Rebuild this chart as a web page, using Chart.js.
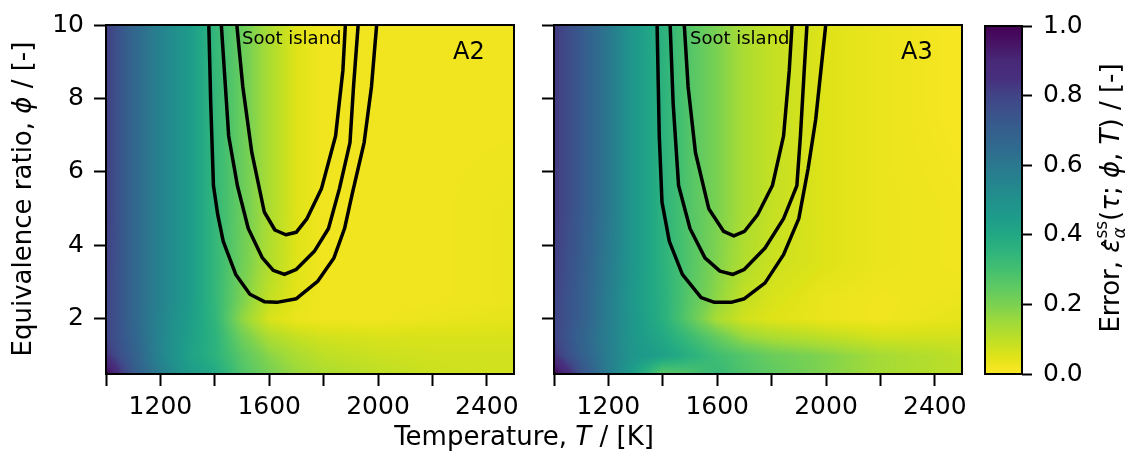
<!DOCTYPE html>
<html lang="en">
<head>
<meta charset="UTF-8">
<title>Soot island error maps</title>
<script src="https://cdn.jsdelivr.net/npm/chart.js"></script>
<style>
  body { margin: 0; background: #fff; }
  #wrap { position: relative; width: 1128px; height: 453px; }
  #wrap canvas { position: absolute; left: 0; top: 0; }
</style>
</head>
<body>
<div id="wrap">
  <canvas id="panelA2" width="1128" height="453"></canvas>
  <canvas id="panelA3" width="1128" height="453"></canvas>
  <canvas id="cbar" width="1128" height="453"></canvas>
</div>
<script>
// grid of the error maps: columns = temperature [K], rows = equivalence ratio [-]
const temperatureK = [1000, 1050, 1100, 1200, 1300, 1400, 1500, 1600, 1700, 1800, 2000, 2200, 2500];
const equivRatio = [0.5, 1.0, 1.5, 2.0, 2.5, 3.5, 5.0, 7.5, 10.0];

// A2 error, one row per equivalence ratio
const errorA2 = [
  [1.00, 0.85, 0.72, 0.58, 0.46, 0.40, 0.28, 0.21, 0.16, 0.13, 0.10, 0.08, 0.07],
  [0.85, 0.76, 0.70, 0.55, 0.43, 0.36, 0.26, 0.18, 0.13, 0.10, 0.08, 0.07, 0.07],
  [0.80, 0.74, 0.68, 0.55, 0.44, 0.36, 0.22, 0.13, 0.09, 0.07, 0.06, 0.06, 0.06],
  [0.80, 0.74, 0.67, 0.55, 0.45, 0.35, 0.17, 0.06, 0.03, 0.02, 0.02, 0.03, 0.04],
  [0.80, 0.74, 0.67, 0.56, 0.46, 0.34, 0.20, 0.09, 0.04, 0.02, 0.02, 0.02, 0.03],
  [0.81, 0.74, 0.67, 0.56, 0.46, 0.34, 0.22, 0.12, 0.05, 0.02, 0.02, 0.02, 0.03],
  [0.82, 0.74, 0.67, 0.56, 0.46, 0.34, 0.23, 0.13, 0.05, 0.02, 0.02, 0.02, 0.03],
  [0.82, 0.74, 0.67, 0.56, 0.46, 0.34, 0.23, 0.13, 0.05, 0.02, 0.02, 0.02, 0.02],
  [0.82, 0.74, 0.67, 0.56, 0.46, 0.34, 0.23, 0.13, 0.05, 0.02, 0.02, 0.02, 0.02]
];

// A3 error
const errorA3 = [
  [1.00, 0.88, 0.75, 0.58, 0.42, 0.25, 0.28, 0.33, 0.28, 0.25, 0.19, 0.14, 0.10],
  [0.85, 0.76, 0.70, 0.58, 0.47, 0.43, 0.37, 0.31, 0.27, 0.23, 0.19, 0.14, 0.10],
  [0.80, 0.74, 0.68, 0.57, 0.46, 0.40, 0.32, 0.24, 0.16, 0.13, 0.10, 0.07, 0.07],
  [0.80, 0.75, 0.70, 0.58, 0.46, 0.37, 0.25, 0.13, 0.07, 0.05, 0.03, 0.02, 0.04],
  [0.80, 0.75, 0.70, 0.58, 0.45, 0.37, 0.26, 0.17, 0.09, 0.06, 0.03, 0.02, 0.03],
  [0.82, 0.76, 0.71, 0.59, 0.46, 0.36, 0.27, 0.19, 0.12, 0.08, 0.05, 0.03, 0.02],
  [0.83, 0.77, 0.72, 0.60, 0.46, 0.36, 0.27, 0.20, 0.13, 0.09, 0.05, 0.03, 0.02],
  [0.83, 0.77, 0.72, 0.60, 0.46, 0.36, 0.27, 0.20, 0.13, 0.09, 0.05, 0.03, 0.01],
  [0.83, 0.77, 0.72, 0.60, 0.46, 0.36, 0.27, 0.20, 0.13, 0.09, 0.05, 0.03, 0.01]
];

// soot island contours (T, phi)
const a2OuterT = [1378, 1385, 1395, 1411, 1431, 1477, 1529, 1582, 1628, 1700, 1779, 1838, 1877, 1904, 1949, 1976, 1995];
const a2OuterPhi = [10, 7.87, 5.63, 4.83, 4.11, 3.21, 2.67, 2.47, 2.45, 2.55, 3.03, 3.66, 4.46, 5.36, 6.8, 8.32, 10];
const a2MidT = [1424, 1451, 1483, 1523, 1575, 1615, 1656, 1700, 1766, 1818, 1858, 1897, 1910, 1927];
const a2MidPhi = [10, 6.98, 5.63, 4.46, 3.66, 3.32, 3.21, 3.35, 3.84, 4.46, 5.54, 6.8, 8.32, 10];
const a2InnerT = [1481, 1503, 1536, 1582, 1621, 1661, 1700, 1739, 1792, 1844, 1871, 1880];
const a2InnerPhi = [10, 8.32, 6.53, 4.91, 4.42, 4.29, 4.36, 4.73, 5.54, 6.98, 8.77, 10];

const a3OuterT = [1379, 1387, 1397, 1424, 1472, 1541, 1590, 1651, 1700, 1776, 1844, 1900, 1934, 1962, 1999];
const a3OuterPhi = [10, 6.98, 5.18, 4.11, 3.21, 2.58, 2.45, 2.45, 2.55, 2.98, 3.75, 4.73, 6.08, 7.42, 10];
const a3MidT = [1427, 1438, 1458, 1500, 1555, 1610, 1658, 1700, 1776, 1844, 1893, 1906, 1920, 1930];
const a3MidPhi = [10, 7.87, 5.63, 4.46, 3.66, 3.30, 3.21, 3.35, 3.93, 4.73, 5.63, 6.98, 8.77, 10];
const a3InnerT = [1479, 1493, 1520, 1569, 1624, 1661, 1700, 1748, 1803, 1844, 1865, 1875];
const a3InnerPhi = [10, 8.32, 6.53, 5.0, 4.38, 4.26, 4.38, 4.83, 5.63, 6.98, 8.77, 10];

// viridis colormap stops (0 -> 1)
const viridis = ['#440154', '#471365', '#482878', '#472f7d', '#414487', '#3b528b', '#355f8d', '#306a8e',
  '#2a788e', '#25848e', '#21918c', '#1e9b8a', '#22a884', '#2fb47c', '#44bf70', '#5ec962',
  '#7ad151', '#9fda3a', '#bddf26', '#dfe318', '#fde725'];

Chart.defaults.font.family = 'DejaVu Sans';
Chart.defaults.color = '#000';

const viridisRgb = viridis.map(h => [1, 3, 5].map(i => parseInt(h.substr(i, 2), 16)));

// error 0 -> yellow, error 1 -> purple (reversed viridis)
function errColor(e) {
  const t = 1 - Math.min(1, Math.max(0, e));
  const f = t * (viridisRgb.length - 1);
  const i = Math.min(viridisRgb.length - 2, Math.floor(f));
  const w = f - i;
  const a = viridisRgb[i], b = viridisRgb[i + 1];
  return [0, 1, 2].map(k => Math.round(a[k] + (b[k] - a[k]) * w));
}

function findCell(arr, v) {
  if (v <= arr[0]) return [0, 0];
  if (v >= arr[arr.length - 1]) return [arr.length - 2, 1];
  let i = 0;
  while (arr[i + 1] < v) i++;
  return [i, (v - arr[i]) / (arr[i + 1] - arr[i])];
}

function sampleGrid(grid, T, phi) {
  const [i, fx] = findCell(temperatureK, T);
  const [j, fy] = findCell(equivRatio, phi);
  const lo = grid[j][i] * (1 - fx) + grid[j][i + 1] * fx;
  const hi = grid[j + 1][i] * (1 - fx) + grid[j + 1][i + 1] * fx;
  return lo * (1 - fy) + hi * fy;
}

function toPoints(ts, phis) {
  return ts.map((t, k) => ({ x: t, y: phis[k] }));
}

// heat map painted pixel by pixel through the chart scales
function heatmap(grid) {
  return {
    id: 'heatmap',
    beforeDatasetsDraw(chart) {
      const { ctx, chartArea: a, scales: { x, y } } = chart;
      const left = Math.round(a.left), top = Math.round(a.top);
      const w = Math.round(a.right) - left, h = Math.round(a.bottom) - top;
      const img = ctx.createImageData(w, h);
      for (let j = 0; j < h; j++) {
        const phi = y.getValueForPixel(top + j + 0.5);
        for (let i = 0; i < w; i++) {
          const T = x.getValueForPixel(left + i + 0.5);
          const c = errColor(sampleGrid(grid, T, phi));
          const k = (j * w + i) * 4;
          img.data[k] = c[0]; img.data[k + 1] = c[1]; img.data[k + 2] = c[2]; img.data[k + 3] = 255;
        }
      }
      ctx.putImageData(img, left, top);
    }
  };
}

function panelDecor(tag) {
  return {
    id: 'decor',
    afterDatasetsDraw(chart) {
      const { ctx, chartArea: a, scales: { x, y } } = chart;
      ctx.save();
      ctx.fillStyle = '#000';
      ctx.textBaseline = 'alphabetic';
      ctx.textAlign = 'left';
      ctx.font = '18px "DejaVu Sans"';
      ctx.fillText('Soot island', x.getPixelForValue(1500), y.getPixelForValue(9.49));
      ctx.font = '24px "DejaVu Sans"';
      ctx.fillText(tag, x.getPixelForValue(2276), y.getPixelForValue(9.08));
      ctx.lineWidth = 2;
      ctx.strokeStyle = '#000';
      ctx.strokeRect(a.left, a.top, a.right - a.left, a.bottom - a.top);
      ctx.restore();
    }
  };
}

function makePanel(id, grid, lines, tag, yLabels, area) {
  return new Chart(document.getElementById(id), {
    type: 'scatter',
    data: {
      datasets: lines.map(l => ({
        data: l, showLine: true, borderColor: '#000', borderWidth: 3.5,
        pointRadius: 0, borderJoinStyle: 'round', tension: 0
      }))
    },
    options: {
      responsive: false,
      animation: false,
      events: [],
      layout: { padding: { left: area.left - area.yw, top: 21, right: 1128 - area.right, bottom: 0 } },
      plugins: { legend: { display: false }, tooltip: { enabled: false } },
      scales: {
        x: {
          type: 'linear', min: 1000, max: 2500,
          ticks: {
            stepSize: 200, includeBounds: false, autoSkip: false, maxRotation: 0,
            padding: 6, font: { size: 25 },
            callback: v => (v % 400 === 0 ? String(v) : '')
          },
          grid: { display: true, drawOnChartArea: false, tickLength: 12, tickWidth: 2, color: '#000' },
          border: { display: false },
          afterFit: s => { s.height = 79; }
        },
        y: {
          type: 'linear', min: 0.5, max: 10,
          ticks: {
            stepSize: 2, includeBounds: false, autoSkip: false, padding: 10, font: { size: 25 },
            callback: v => (yLabels ? String(v) : '')
          },
          grid: { display: true, drawOnChartArea: false, tickLength: 12, tickWidth: 2, color: '#000' },
          border: { display: false },
          afterFit: s => { s.width = area.yw; }
        }
      }
    },
    plugins: [heatmap(grid), panelDecor(tag)]
  });
}

makePanel('panelA2', errorA2, [
  toPoints(a2OuterT, a2OuterPhi), toPoints(a2MidT, a2MidPhi), toPoints(a2InnerT, a2InnerPhi)
], 'A2', true, { left: 106, right: 514, yw: 106 });

makePanel('panelA3', errorA3, [
  toPoints(a3OuterT, a3OuterPhi), toPoints(a3MidT, a3MidPhi), toPoints(a3InnerT, a3InnerPhi)
], 'A3', false, { left: 554, right: 962, yw: 30 });

// draw a line of mixed text (normal / italic / sub / sup), centred on the origin, rotated
function drawRich(ctx, parts, cx, cy, angle) {
  ctx.save();
  ctx.translate(cx, cy);
  ctx.rotate(angle);
  ctx.textBaseline = 'alphabetic';
  ctx.textAlign = 'left';
  ctx.fillStyle = '#000';
  let total = 0, stackW = 0;
  parts.forEach(p => {
    ctx.font = p.font;
    p.w = ctx.measureText(p.text).width;
    if (p.stack) { stackW = p.w; p.adv = 0; }
    else if (p.over) { p.adv = 0; }
    else { p.adv = Math.max(p.w, stackW); stackW = 0; }
    total += p.adv;
  });
  let x = -total / 2, prevX = x, prevW = 0;
  parts.forEach(p => {
    ctx.font = p.font;
    if (p.over) {
      ctx.fillText(p.text, prevX + prevW / 2 - p.w / 2 + (p.dx || 0), p.dy || 0);
      return;
    }
    ctx.fillText(p.text, x, p.dy || 0);
    prevX = x; prevW = p.w;
    x += p.adv;
  });
  ctx.restore();
}

const figureLabels = {
  id: 'figureLabels',
  afterDraw(chart) {
    const ctx = chart.ctx;
    const rm = '26px "DejaVu Sans"', it = 'italic 26px "DejaVu Sans"';
    const smRm = '17px "DejaVu Sans"', smIt = 'italic 17px "DejaVu Sans"';
    drawRich(ctx, [
      { text: 'Temperature, ', font: rm }, { text: 'T', font: it }, { text: ' / [K]', font: rm }
    ], 524, 445, 0);
    drawRich(ctx, [
      { text: 'Equivalence ratio, ', font: rm }, { text: 'ϕ', font: it }, { text: ' / [-]', font: rm }
    ], 31, 199, -Math.PI / 2);
    drawRich(ctx, [
      { text: 'Error, ', font: rm },
      { text: 'ε', font: it },
      { text: 'ˆ', font: rm, over: true, dy: 4, dx: 2 },
      { text: 'ss', font: smRm, stack: true, dy: -12 },
      { text: 'α', font: smIt, dy: 6 },
      { text: '(', font: rm },
      { text: 'τ', font: it },
      { text: '; ', font: rm },
      { text: 'ϕ', font: it },
      { text: ', ', font: rm },
      { text: 'T', font: it },
      { text: ') / [-]', font: rm }
    ], 1119, 198, -Math.PI / 2);
  }
};

const colorbarFill = {
  id: 'colorbarFill',
  beforeDatasetsDraw(chart) {
    const { ctx, chartArea: a, scales: { y } } = chart;
    for (let py = Math.round(a.top); py < Math.round(a.bottom); py++) {
      const c = errColor(y.getValueForPixel(py + 0.5));
      ctx.fillStyle = 'rgb(' + c.join(',') + ')';
      ctx.fillRect(a.left, py, a.right - a.left, 1);
    }
    ctx.save();
    ctx.lineWidth = 2;
    ctx.strokeStyle = '#000';
    ctx.strokeRect(a.left, a.top, a.right - a.left, a.bottom - a.top);
    ctx.restore();
  }
};

new Chart(document.getElementById('cbar'), {
  type: 'scatter',
  data: { datasets: [] },
  options: {
    responsive: false,
    animation: false,
    events: [],
    layout: { padding: { left: 985, top: 21, right: 1128 - 1022 - 70, bottom: 79 } },
    plugins: { legend: { display: false }, tooltip: { enabled: false } },
    scales: {
      x: { display: false, min: 0, max: 1 },
      y: {
        position: 'right', min: 0, max: 1,
        ticks: { stepSize: 0.2, padding: 11, font: { size: 25 }, callback: v => v.toFixed(1) },
        grid: { display: true, drawOnChartArea: false, tickLength: 10, tickWidth: 2, color: '#000' },
        border: { display: false },
        afterFit: s => { s.width = 70; }
      }
    }
  },
  plugins: [colorbarFill, figureLabels]
});
</script>
</body>
</html>
